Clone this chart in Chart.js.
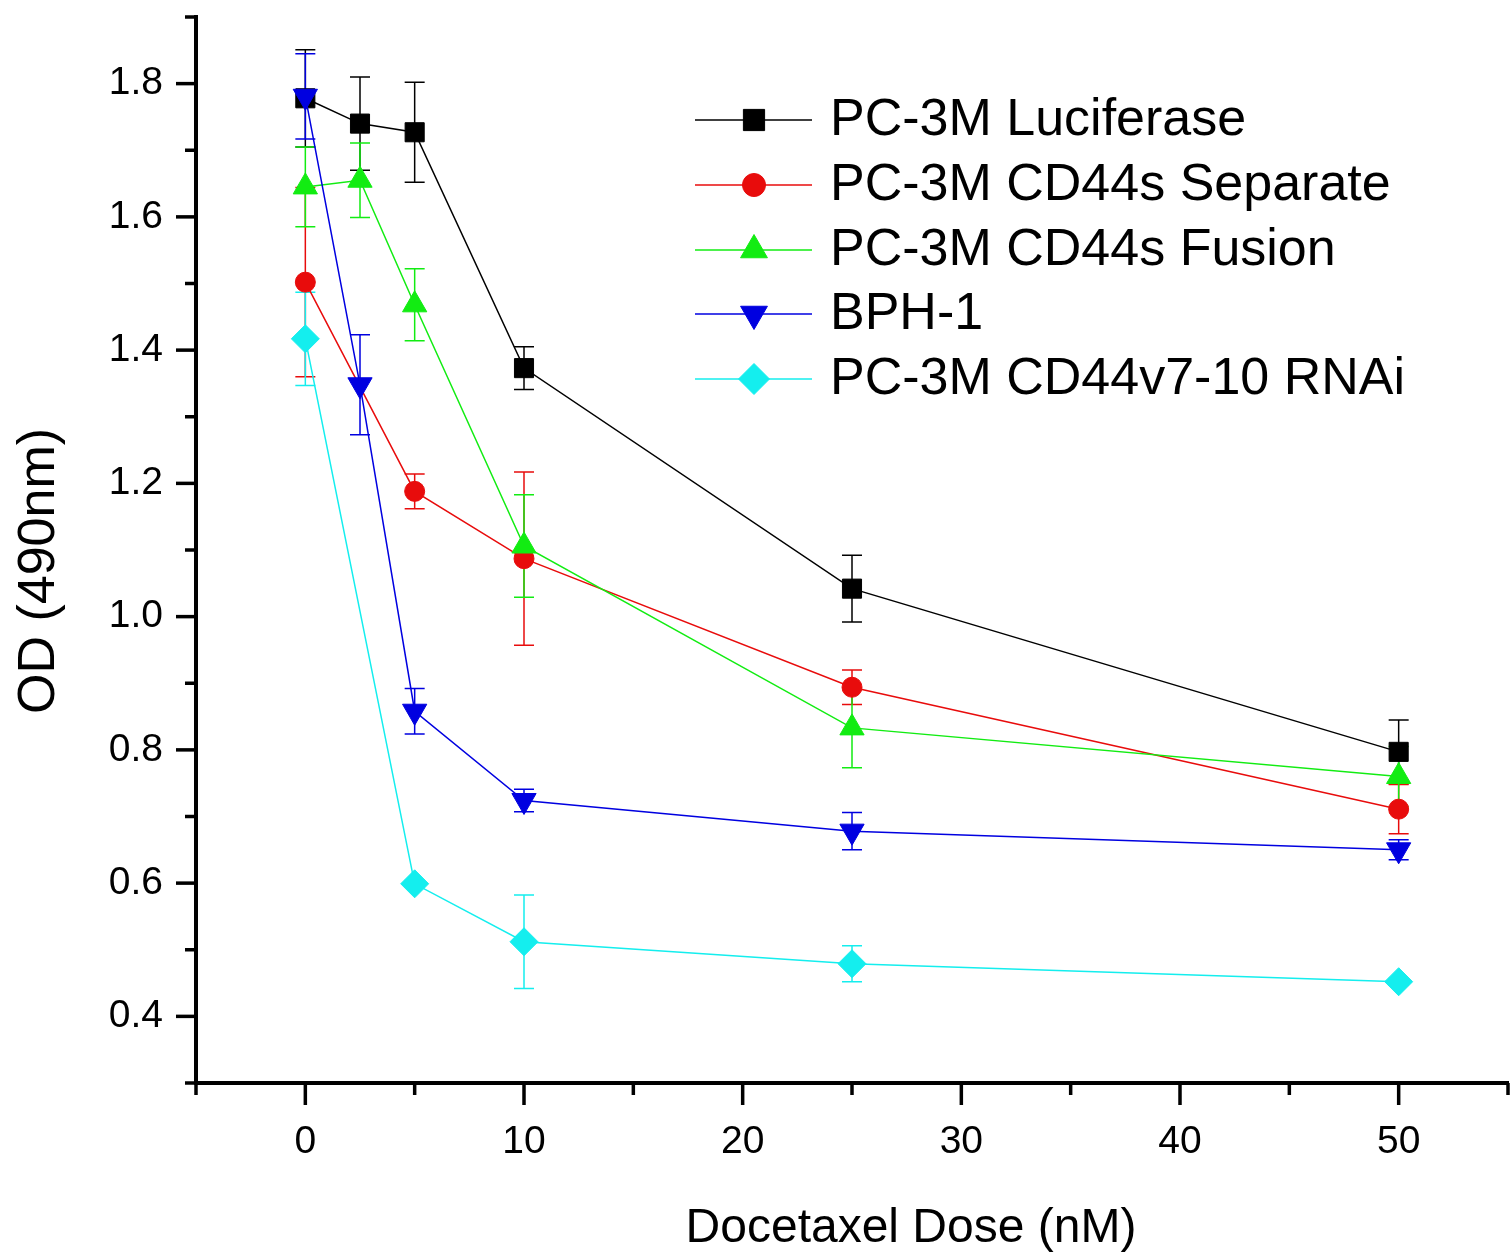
<!DOCTYPE html>
<html>
<head>
<meta charset="utf-8">
<script src="https://cdn.jsdelivr.net/npm/chart.js@4.4.1/dist/chart.umd.min.js"></script>
<style>
  html, body { margin: 0; padding: 0; background: #fff; }
  #wrap { width: 1512px; height: 1258px; }
</style>
</head>
<body>
<div id="wrap"><canvas id="od" width="1512" height="1258"></canvas></div>
<script>
// docetaxel dose (nM)
var doses = [0, 2.5, 5, 10, 25, 50];

// OD 490nm, means and error (+/-)
var luciferase    = [1.778, 1.740, 1.727, 1.373, 1.042, 0.797];
var luciferaseErr = [0.073, 0.070, 0.075, 0.032, 0.050, 0.048];
var separate      = [1.502, null, 1.188, 1.087, 0.894, 0.711];
var separateErr   = [0.142, null, 0.026, 0.130, 0.026, 0.037];
var fusion        = [1.645, 1.655, 1.468, 1.106, 0.833, 0.760];
var fusionErr     = [0.060, 0.056, 0.054, 0.077, 0.060, 0.045];
var bph1          = [1.781, 1.348, 0.858, 0.724, 0.678, 0.650];
var bph1Err       = [0.064, 0.075, 0.034, 0.017, 0.028, 0.015];
var rnai          = [1.417, null, 0.599, 0.512, 0.479, 0.452];
var rnaiErr       = [0.070, null, 0.005, 0.070, 0.027, 0.005];

var seriesNames = ['PC-3M Luciferase', 'PC-3M CD44s Separate', 'PC-3M CD44s Fusion', 'BPH-1', 'PC-3M CD44v7-10 RNAi'];
var xTitle = 'Docetaxel Dose (nM)';
var yTitle = 'OD (490nm)';

var FONT = 'Arial, "Liberation Sans", sans-serif';

function pts(vals) {
    var out = [];
    for (var i = 0; i < doses.length; i++) {
        if (vals[i] !== null) out.push({x: doses[i], y: vals[i]});
    }
    return out;
}
function errs(vals, e) {
    var out = [];
    for (var i = 0; i < doses.length; i++) {
        if (vals[i] !== null) out.push(e[i]);
    }
    return out;
}

function series(idx, vals, e, color, style, radius, rot) {
    return {
        label: seriesNames[idx],
        data: pts(vals),
        errors: errs(vals, e),
        borderColor: color,
        backgroundColor: color,
        borderWidth: 1.5,
        pointStyle: style,
        pointRadius: radius,
        pointHoverRadius: radius,
        pointRotation: rot,
        pointBorderWidth: 1,
        pointBackgroundColor: color,
        pointBorderColor: color,
        tension: 0,
        order: 4 - idx
    };
}

// error bars, drawn under lines and markers
var errorBars = {
    id: 'errorBars',
    beforeDatasetsDraw: function (chart) {
        var ctx = chart.ctx;
        var ys = chart.scales.y;
        chart.data.datasets.forEach(function (ds, i) {
            var meta = chart.getDatasetMeta(i);
            ctx.save();
            ctx.strokeStyle = ds.borderColor;
            ctx.lineWidth = 1.5;
            meta.data.forEach(function (p, j) {
                var v = ds.data[j].y, e = ds.errors[j];
                var top = ys.getPixelForValue(v + e);
                var bot = ys.getPixelForValue(v - e);
                ctx.beginPath();
                ctx.moveTo(p.x, top); ctx.lineTo(p.x, bot);
                ctx.moveTo(p.x - 10, top); ctx.lineTo(p.x + 10, top);
                ctx.moveTo(p.x - 10, bot); ctx.lineTo(p.x + 10, bot);
                ctx.stroke();
            });
            ctx.restore();
        });
    }
};

// outward ticks, long for labelled values, short for the rest
var axisTicks = {
    id: 'axisTicks',
    afterDraw: function (chart) {
        var ctx = chart.ctx, xs = chart.scales.x, ys = chart.scales.y;
        var area = chart.chartArea;
        ctx.save();
        ctx.strokeStyle = '#000';
        ctx.lineWidth = 3.5;
        xs.ticks.forEach(function (t) {
            var px = xs.getPixelForValue(t.value);
            var len = (Math.round(t.value) % 10 === 0) ? 22 : 12;
            ctx.beginPath();
            ctx.moveTo(px, area.bottom);
            ctx.lineTo(px, area.bottom + len);
            ctx.stroke();
        });
        ys.ticks.forEach(function (t) {
            var py = ys.getPixelForValue(t.value);
            var len = (Math.round(t.value * 10) % 2 === 0) ? 20 : 11;
            ctx.beginPath();
            ctx.moveTo(area.left, py);
            ctx.lineTo(area.left - len, py);
            ctx.stroke();
        });
        ctx.restore();
    }
};

// axis titles
var axisTitles = {
    id: 'axisTitles',
    afterDraw: function (chart) {
        var ctx = chart.ctx;
        ctx.save();
        ctx.fillStyle = '#000';
        ctx.textAlign = 'center';
        ctx.textBaseline = 'middle';
        ctx.font = '48px ' + FONT;
        ctx.fillText(xTitle, 911, 1229);
        ctx.font = '52px ' + FONT;
        ctx.translate(40, 571);
        ctx.rotate(-Math.PI / 2);
        ctx.fillText(yTitle, 0, 0);
        ctx.restore();
    }
};

// legend inside the plot: line sample with marker, then label
var lineLegend = {
    id: 'lineLegend',
    afterDraw: function (chart) {
        var ctx = chart.ctx;
        var rowY = [120, 185, 250, 314, 379];
        ctx.save();
        chart.data.datasets.forEach(function (ds, i) {
            var y = rowY[i];
            ctx.strokeStyle = ds.borderColor;
            ctx.lineWidth = 1.5;
            ctx.beginPath();
            ctx.moveTo(695, y); ctx.lineTo(812, y);
            ctx.stroke();
            ctx.fillStyle = ds.backgroundColor;
            ctx.lineWidth = 1;
            Chart.helpers.drawPoint(ctx, {
                pointStyle: ds.pointStyle,
                radius: ds.pointRadius + 1.5,
                rotation: ds.pointRotation,
                borderWidth: 1
            }, 754, y);
            ctx.fillStyle = '#000';
            ctx.font = '52px ' + FONT;
            ctx.textAlign = 'left';
            ctx.textBaseline = 'middle';
            ctx.fillText(ds.label, 830, y + 1);
        });
        ctx.restore();
    }
};

var ctx = document.getElementById('od').getContext('2d');
var odChart = new Chart(ctx, {
    type: 'line',
    data: {
        datasets: [
            series(0, luciferase, luciferaseErr, '#000000', 'rect', 13.5, 0),
            series(1, separate, separateErr, '#e80c0c', 'circle', 10, 0),
            series(2, fusion, fusionErr, '#12ec12', 'triangle', 14, 0),
            series(3, bph1, bph1Err, '#0000e0', 'triangle', 14, 180),
            series(4, rnai, rnaiErr, '#14eeee', 'rectRot', 14, 0)
        ]
    },
    options: {
        responsive: false,
        animation: false,
        events: [],
        layout: { autoPadding: false, padding: { top: 17, right: 4, left: 0, bottom: 0 } },
        plugins: {
            legend: { display: false },
            tooltip: { enabled: false }
        },
        scales: {
            x: {
                type: 'linear',
                min: -5,
                max: 55,
                afterFit: function (scale) {
                    scale.height = 175;
                    scale.paddingLeft = 0;
                    scale.paddingRight = 0;
                },
                border: { display: true, color: '#000', width: 4 },
                grid: { drawOnChartArea: false, drawTicks: true, tickLength: 20, tickColor: 'rgba(0,0,0,0)' },
                ticks: {
                    stepSize: 5,
                    autoSkip: false,
                    maxRotation: 0,
                    padding: 16,
                    color: '#000',
                    font: { family: FONT, size: 39 },
                    callback: function (v) {
                        return (v >= 0 && v <= 50 && v % 10 === 0) ? String(v) : '';
                    }
                }
            },
            y: {
                type: 'linear',
                min: 0.3,
                max: 1.9,
                afterFit: function (scale) {
                    scale.width = 196;
                    scale.paddingTop = 0;
                    scale.paddingBottom = 0;
                },
                border: { display: true, color: '#000', width: 4 },
                grid: { drawOnChartArea: false, drawTicks: true, tickLength: 20, tickColor: 'rgba(0,0,0,0)' },
                ticks: {
                    stepSize: 0.1,
                    autoSkip: false,
                    padding: 13,
                    color: '#000',
                    font: { family: FONT, size: 39 },
                    callback: function (v) {
                        var k = Math.round(v * 10);
                        return (k % 2 === 0 && k >= 4 && k <= 18) ? v.toFixed(1) : '';
                    }
                }
            }
        }
    },
    plugins: [errorBars, axisTicks, axisTitles, lineLegend]
});
</script>
</body>
</html>
